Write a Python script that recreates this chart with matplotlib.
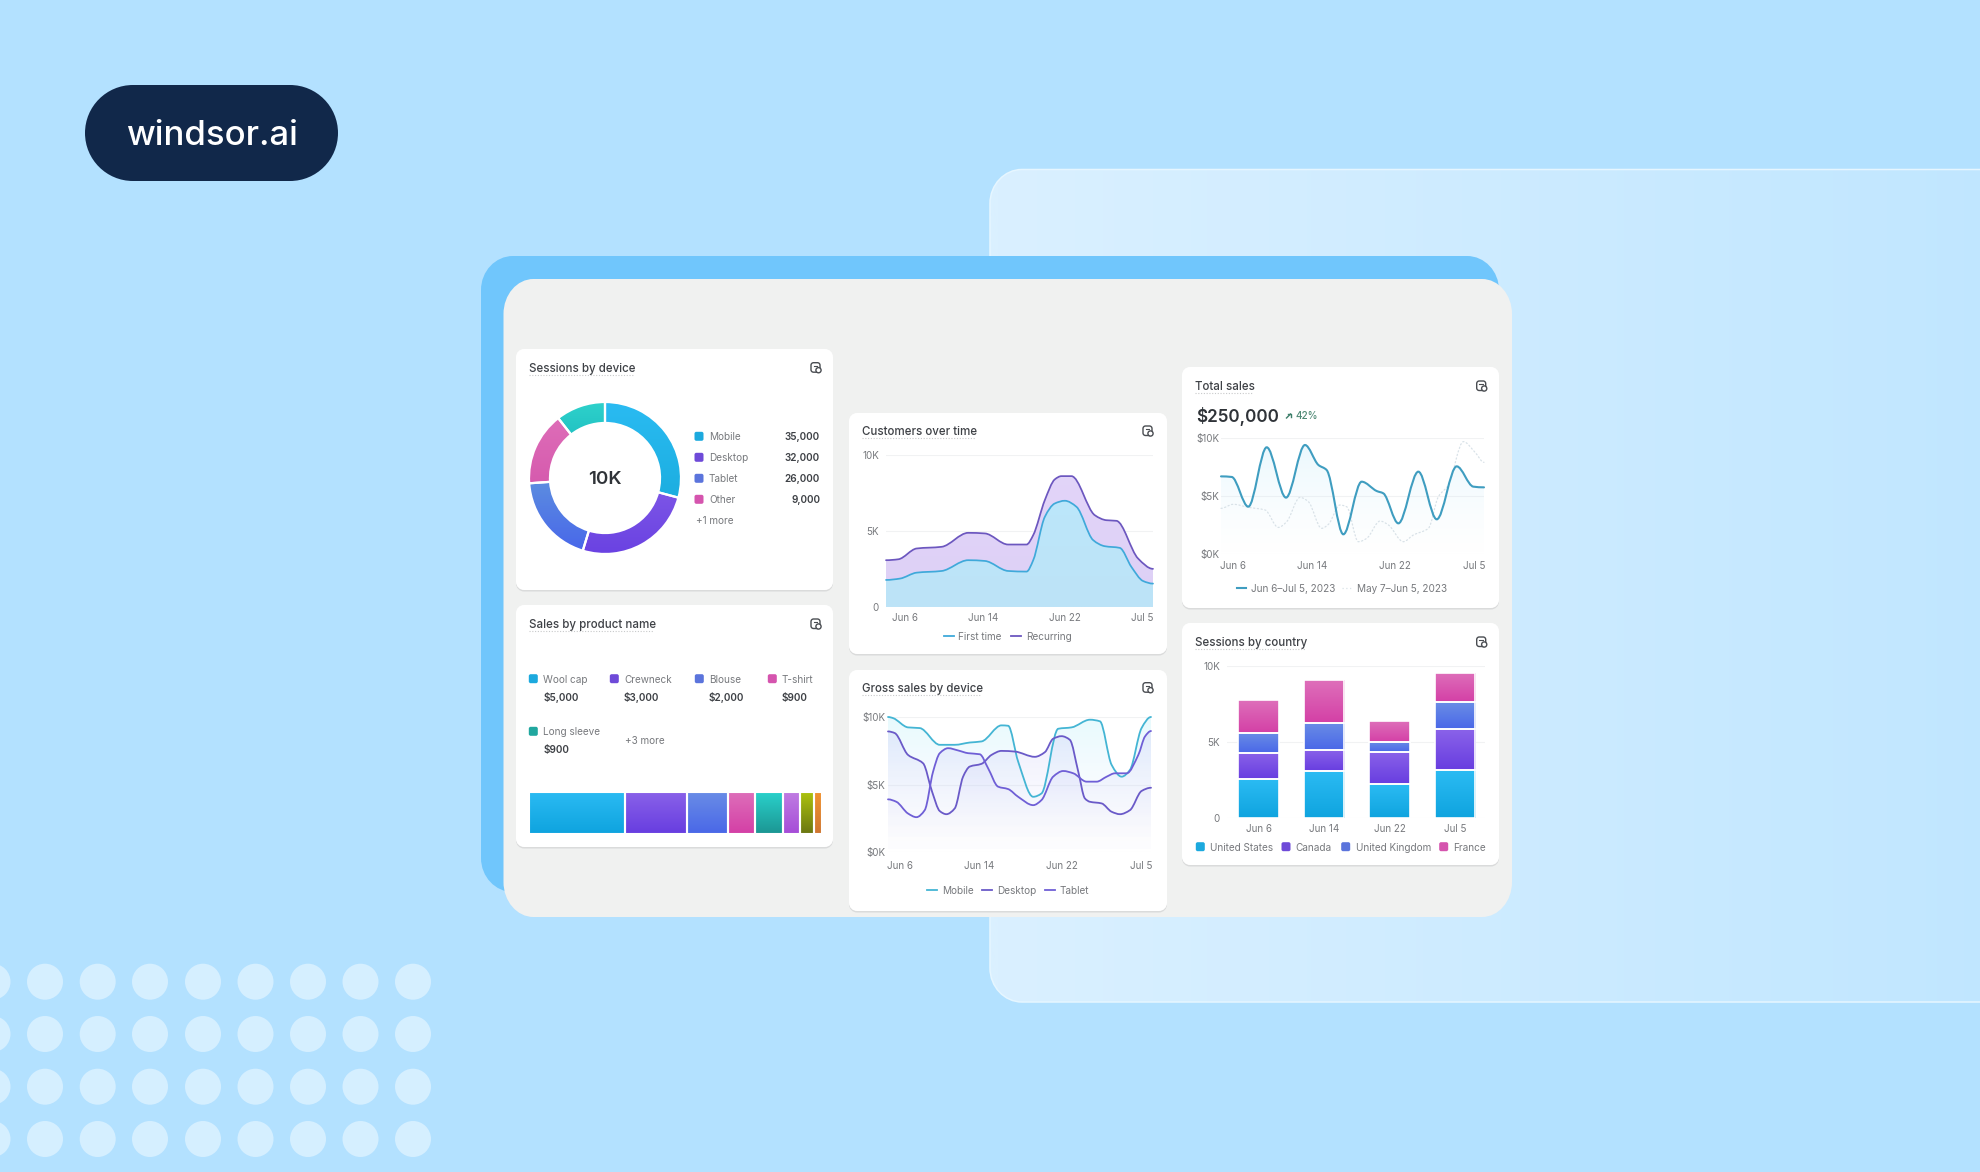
import numpy as np
import matplotlib
matplotlib.use("Agg")
import matplotlib.pyplot as plt
from matplotlib.patches import Circle, PathPatch
from matplotlib.path import Path
from matplotlib.colors import to_rgba

plt.rcParams['font.family'] = ['Inter', 'DejaVu Sans']

# ---------------- data ----------------
device_names = ['Mobile', 'Desktop', 'Tablet', 'Other']
device_labels = ['35,000', '32,000', '26,000', '9,000']
device_slices = [105, 92, 69, 56, 38]

product_names = ['Wool cap', 'Crewneck', 'Blouse', 'T-shirt', 'Long sleeve']
product_labels = ['$5,000', '$3,000', '$2,000', '$900', '$900']
product_bar = [5090, 3260, 2170, 1460, 1460, 915, 720, 420]

cust_recurring_day = [0, 1.34, 3.33, 6.04, 8.93, 10.74, 13.27, 15.26, 15.99, 17.25, 18.34, 19.06, 20.14, 22.68,
                      23.94, 25.03, 27.38, 29]
cust_recurring = [3080, 3140, 3850, 3960, 4880, 4840, 4110, 4110, 4730, 7030, 8400, 8610, 8610, 6040,
                  5710, 5670, 3190, 2510]
cust_first_day = [0, 1.52, 3.33, 6.04, 8.93, 10.74, 13.27, 15.26, 15.99, 17.25, 18.33, 19.42, 20.69, 22.5,
                  23.76, 25.39, 26.65, 27.92, 29]
cust_first = [1780, 1870, 2260, 2370, 3080, 3030, 2370, 2330, 3080, 5930, 6810, 6990, 6590, 4400,
              4000, 3890, 2640, 1710, 1540]

gross_mobile_day = [0, 0.55, 2.21, 3.5, 5.71, 7.36, 9.02, 10.31, 12.51, 13.25, 14.35, 16.01, 16.93, 18.77,
                    20.24, 22.27, 23.37, 24.66, 25.76, 26.68, 27.96, 29]
gross_mobile = [10000, 9920, 9230, 9180, 7940, 7940, 8110, 8190, 9380, 9350, 6700, 4090, 4340, 9130,
                9230, 9800, 9680, 6450, 5580, 6080, 9180, 10000]
gross_desktop_day = [0, 0.74, 2.21, 3.87, 4.86, 5.71, 6.44, 7.36, 8.28, 9.02, 10.31, 11.41, 12.51, 13.99,
                     16.19, 17.29, 18.21, 19.13, 20.05, 20.98, 21.71, 22.27, 23.55, 24.66, 25.58, 26.68, 27.96, 29]
gross_desktop = [8930, 8810, 7190, 6570, 4470, 3030, 2800, 3230, 5580, 6330, 6530, 7190, 7490, 7440,
                 7050, 7390, 8390, 8580, 8310, 5950, 3970, 3720, 3600, 2980, 2800, 3100, 4520, 4760]
gross_tablet_day = [0, 0.92, 2.21, 3.13, 4.05, 4.97, 5.71, 6.63, 7.74, 8.83, 10.12, 11.04, 12.14, 13.25,
                    14.35, 16.01, 16.93, 18.21, 19.32, 20.43, 21.9, 23.0, 24.11, 25.03, 26.32, 27.6, 28.34, 29]
gross_tablet = [3900, 3720, 2850, 2580, 3100, 5950, 7320, 7690, 7520, 7320, 7240, 6200, 4840, 4660,
                4090, 3470, 3850, 5580, 6000, 5830, 5210, 5210, 5580, 5830, 5830, 7190, 8560, 8960]

total_current_day = [0, 1.18, 3.01, 5.04, 7.17, 9.26, 10.74, 11.65, 13.49, 15.51, 17.17, 17.9, 19.56, 21.76,
                     23.79, 25.99, 27.83, 29]
total_current = [6700, 6650, 4075, 9220, 4860, 9420, 7690, 7250, 1680, 6240, 5430, 5230, 2630, 7110,
                 2980, 7570, 5810, 5750]
total_previous_day = [0, 1.36, 3.01, 4.85, 6.32, 7.24, 8.71, 9.63, 11.1, 11.84, 13.12, 13.86, 15.15, 16.07,
                      17.54, 18.46, 20.11, 21.21, 22.87, 23.97, 25.07, 26.73, 28.01, 29]
total_previous = [3930, 4280, 4020, 3790, 2280, 2770, 4880, 4510, 2200, 2540, 4220, 4070, 1040, 1330,
                  2830, 2490, 1040, 1620, 2200, 4940, 5950, 9710, 8790, 7920]

date_labels = ['Jun 6', 'Jun 14', 'Jun 22', 'Jul 5']
country_names = ['United States', 'Canada', 'United Kingdom', 'France']
country_us = [2530, 3050, 2200, 3140]
country_ca = [1740, 1430, 2110, 2700]
country_uk = [1340, 1780, 680, 1760]
country_fr = [2130, 2810, 1360, 1960]

# ---------------- palette ----------------
W, H = 1980, 1172
CYAN = ('#2BBBF3', '#0FA4DF')
PURPLE = ('#8A62E9', '#683EE0')
BLUE = ('#6A8DE6', '#4A68E8')
PINK = ('#DE6FBA', '#D440A6')
TEAL = ('#2AD2CC', '#1C9794')
LILAC = ('#C07DE2', '#A64DD8')
OLIVE = ('#AEC40E', '#6C7812')
ORANGE = ('#F29330', '#CF7630')
SW_CYAN, SW_PURPLE, SW_BLUE, SW_PINK, SW_TEAL = '#1CA9DE', '#6E4AD8', '#5B74DC', '#D554AE', '#20A79F'
INK = '#3E4146'
MUTED = '#77797D'

fig = plt.figure(figsize=(W / 100, H / 100), dpi=100, facecolor='#B3E1FF')
bg = fig.add_axes([0, 0, 1, 1])
bg.set_xlim(0, W)
bg.set_ylim(H, 0)
bg.axis('off')


def rbox(x0, y0, x1, y1, rx, ry=None, **kw):
    """Rounded rectangle with elliptical cubic corners, in pixel coordinates."""
    ry = rx if ry is None else ry
    k = 0.5523
    kx, ky = rx * (1 - k), ry * (1 - k)
    v = [(x0 + rx, y0), (x1 - rx, y0),
         (x1 - kx, y0), (x1, y0 + ky), (x1, y0 + ry),
         (x1, y1 - ry),
         (x1, y1 - ky), (x1 - kx, y1), (x1 - rx, y1),
         (x0 + rx, y1),
         (x0 + kx, y1), (x0, y1 - ky), (x0, y1 - ry),
         (x0, y0 + ry),
         (x0, y0 + ky), (x0 + kx, y0), (x0 + rx, y0),
         (x0 + rx, y0)]
    c4, li = Path.CURVE4, Path.LINETO
    codes = [Path.MOVETO, li, c4, c4, c4, li, c4, c4, c4, li, c4, c4, c4, li, c4, c4, c4, Path.CLOSEPOLY]
    p = PathPatch(Path(v, codes), **kw)
    bg.add_patch(p)
    return p


def gradient(ax, patch, bbox, top, bottom, z=2, horizontal=False):
    """Vertical (or horizontal) colour ramp clipped to a patch."""
    xl, yl = ax.get_xlim(), ax.get_ylim()
    a, b = to_rgba(top), to_rgba(bottom)
    t = np.linspace(0, 1, 64)[:, None, None]
    arr = (1 - t) * np.array(a)[None, None, :] + t * np.array(b)[None, None, :]
    if horizontal:
        arr = np.transpose(arr, (1, 0, 2))
    inverted = yl[0] > yl[1]
    extent = (bbox[0], bbox[2], bbox[3], bbox[1]) if inverted else (bbox[0], bbox[2], bbox[1], bbox[3])
    im = ax.imshow(arr, extent=extent, aspect='auto', origin='upper', zorder=z, interpolation='bilinear')
    im.set_clip_path(patch)
    ax.set_xlim(xl)
    ax.set_ylim(yl)
    return im


def outline(ax, patch, lw=1.3, z=4):
    ax.add_artist(PathPatch(patch.get_path(), transform=patch.get_transform(), fc='none', ec='white', lw=lw, zorder=z))


def curve(x, y, close=False):
    """Monotone cubic path through the read values."""
    x = np.asarray(x, float)
    y = np.asarray(y, float)
    h = np.diff(x)
    d = np.diff(y) / h
    m = np.zeros_like(y)
    for i in range(1, len(y) - 1):
        if d[i - 1] * d[i] > 0:
            m[i] = 2 * d[i - 1] * d[i] / (d[i - 1] + d[i])
    verts = [(x[0], y[0])]
    codes = [Path.MOVETO]
    for i in range(len(h)):
        verts += [(x[i] + h[i] / 3, y[i] + m[i] * h[i] / 3),
                  (x[i + 1] - h[i] / 3, y[i + 1] - m[i + 1] * h[i] / 3),
                  (x[i + 1], y[i + 1])]
        codes += [Path.CURVE4] * 3
    if close:
        verts += [(x[-1], 0), (x[0], 0), (x[0], y[0])]
        codes += [Path.LINETO, Path.LINETO, Path.CLOSEPOLY]
    return Path(verts, codes)


def chart_ax(x0, y0, x1, y1, xlim, ylim=(0, 10000)):
    ax = fig.add_axes([x0 / W, 1 - y1 / H, (x1 - x0) / W, (y1 - y0) / H])
    ax.patch.set_alpha(0)
    ax.set_xlim(xlim)
    ax.set_ylim(ylim)
    for s in ax.spines.values():
        s.set_visible(False)
    return ax


def style_ticks(ax, xt, xl, yt, yl, padx, pady):
    ax.set_xticks(xt, xl)
    ax.set_yticks(yt, yl)
    ax.tick_params(axis='x', length=0, pad=padx, labelsize=TICK, labelcolor=MUTED)
    ax.tick_params(axis='y', length=0, pad=pady, labelsize=TICK, labelcolor=MUTED)
    ax.grid(axis='y', color='#F1F2F3', lw=0.8, zorder=0)
    ax.set_axisbelow(True)


def line(ax, path, color, lw, **kw):
    ax.add_patch(PathPatch(path, fc='none', ec=color, lw=lw, clip_on=False, capstyle='round', zorder=5, **kw))


def area(ax, path, top, bottom, z=2):
    p = PathPatch(path, fc='none', ec='none', zorder=z)
    ax.add_patch(p)
    xl, yl = ax.get_xlim(), ax.get_ylim()
    gradient(ax, p, (xl[0], yl[0], xl[1], yl[1]), top, bottom, z=z)


TICK = 7.1
LEG = 7.2
TITLE = 8.3

# ---------------- backdrop ----------------
panel = rbox(990, 169.5, 2050, 1002, 32, 34, fc='none', ec='none', zorder=1)
gradient(bg, panel, (990, 169, 2050, 1002), '#DAF0FF', '#BFE6FF', z=1, horizontal=True)
rbox(990, 169.5, 2050, 1002, 32, 34, fc='none', ec='#E6F6FF', lw=1.1, zorder=1.1)
rbox(481, 256, 1499, 892, 32, 34, fc='#70C6FC', ec='none', zorder=2)
rbox(503.5, 279, 1512, 917, 30, 35, fc='#F0F1F0', ec='none', zorder=3)

rbox(85, 85, 338, 181, 48, fc='#11284A', ec='none', zorder=3)
bg.text(212, 136, 'windsor.ai', color='white', fontsize=25, fontweight='medium', ha='center', va='center', zorder=4)

for cy in [981.7, 1034, 1086.7, 1139]:
    for cx in [-7.5, 45, 97.7, 150, 203, 255.5, 308, 360.5, 413]:
        bg.add_patch(Circle((cx, cy), 18, fc='#D5EFFF', ec='none', zorder=1))

# ---------------- cards ----------------
cards = [(516, 349, 833, 590), (516, 605, 833, 847), (849, 413, 1167, 654),
         (849, 670, 1167, 911), (1182, 367, 1499, 608), (1182, 623, 1499, 865)]
for c in cards:
    rbox(c[0], c[1] + 1.5, c[2], c[3] + 1.5, 8, fc='#DADBDB', ec='none', zorder=4)
    rbox(*c, 8, fc='white', ec='none', zorder=4.1)

titles = [('Sessions by device', 529, 367.7, 104, 816), ('Sales by product name', 529, 624, 125, 816),
          ('Customers over time', 861.7, 431, 113, 1148), ('Gross sales by device', 861.7, 687.7, 118, 1148),
          ('Total sales', 1195, 386, 58, 1481.7), ('Sessions by country', 1195, 642, 110, 1481.7)]
for name, x, y, w, ix in titles:
    bg.text(x, y + 1, name, color=INK, fontsize=TITLE, fontweight='medium', ha='left', va='center', zorder=6)
    bg.plot([x, x + w], [y + 6.8, y + 6.8], color='#C8C9CA', lw=0.8, ls=(0, (1, 1.5)), zorder=6)
    rbox(ix - 5, y - 5, ix + 4, y + 4.5, 2.5, fc='none', ec='#4A4D52', lw=1.0, zorder=6)
    bg.add_patch(Circle((ix + 2.5, y + 2.5), 2.6, fc='white', ec='#4A4D52', lw=1.0, zorder=6.1))
    bg.plot([ix - 2.5, ix + 1], [y - 1.8, y - 1.8], color='#4A4D52', lw=0.8, zorder=6)


def swatch(x, y, color, s=9):
    rbox(x - s / 2, y - s / 2, x + s / 2, y + s / 2, 1.8, fc=color, ec='none', zorder=6)


def label(x, y, s, color=MUTED, size=LEG, ha='left', weight='normal'):
    bg.text(x, y + 1, s, color=color, fontsize=size, ha=ha, va='center', fontweight=weight, zorder=6)


# ---------------- Sessions by device ----------------
ax = chart_ax(525, 398, 685, 558, (-80 / 76, 80 / 76), (-80 / 76, 80 / 76))
ax.set_xticks([])
ax.set_yticks([])
device_colors = [('#2ABBF2', '#1CAEE0'), ('#7C55E6', '#6A42E2'), ('#5C8CE0', '#4867EA'),
                 ('#DE6DB8', '#D65BAE'), ('#2ED1CB', '#22C3C3')]
wedges, _ = ax.pie(device_slices, startangle=90, counterclock=False, radius=1,
                   colors=[c[1] for c in device_colors], wedgeprops=dict(width=0.276, edgecolor='none'))
ax.set_xlim(-80 / 76, 80 / 76)
ax.set_ylim(-80 / 76, 80 / 76)
for w, c in zip(wedges, device_colors):
    b = w.get_path().get_extents()
    gradient(ax, w, (b.x0, b.y0, b.x1, b.y1), c[0], c[1], z=2)
    outline(ax, w, lw=1.6)
bg.text(605, 479, '10K', color='#2F3338', fontsize=13.5, fontweight='semibold', ha='center', va='center', zorder=6)

for y, n, v, c in zip([436.3, 457.3, 478.3, 499.3], device_names, device_labels,
                      [SW_CYAN, SW_PURPLE, SW_BLUE, SW_PINK]):
    swatch(699, y, c)
    label(709, y, n)
    label(820, y, v, color=INK, ha='right', weight='semibold')
label(695.7, 520.3, '+1 more')

# ---------------- Sales by product name ----------------
positions = [(533.3, 543.3, 678.7, 696.7), (614.3, 624, 678.7, 696.7), (699.3, 709, 678.7, 696.7),
             (772.3, 782, 678.7, 696.7), (533.3, 543.3, 731.3, 749)]
for pos, n, v, c in zip(positions, product_names, product_labels,
                        [SW_CYAN, SW_PURPLE, SW_BLUE, SW_PINK, SW_TEAL]):
    swatch(pos[0], pos[2], c)
    label(pos[1], pos[2], n)
    label(pos[1], pos[3], v, color=INK, weight='semibold')
label(625, 740, '+3 more')

ax = chart_ax(528.5, 791.5, 822, 833.5, (0, sum(product_bar)), (0, 1))
ax.axis('off')
left = np.concatenate([[0], np.cumsum(product_bar)[:-1]])
bar_colors = [CYAN, PURPLE, BLUE, PINK, TEAL, LILAC, OLIVE, ORANGE]
rects = ax.barh([0.5], product_bar, left=left, height=1, color=[c[1] for c in bar_colors], zorder=1)
for r, c in zip(rects, bar_colors):
    gradient(ax, r, (r.get_x(), 0, r.get_x() + r.get_width(), 1), c[0], c[1], z=2)
    outline(ax, r, lw=1.5)

# ---------------- Customers over time ----------------
ax = chart_ax(886, 455, 1153, 607, (0, 29))
style_ticks(ax, [2.06, 10.56, 19.42, 27.85], date_labels, [0, 5000, 10000], ['0', '5K', '10K'], 4.2, 5)
area(ax, curve(cust_recurring_day, cust_recurring, True), '#E3D5F9', '#DDD0F6', z=2)
area(ax, curve(cust_first_day, cust_first, True), '#BBE8FC', '#BDE3F7', z=3)
line(ax, curve(cust_recurring_day, cust_recurring), '#6C57BF', 1.25)
line(ax, curve(cust_first_day, cust_first), '#3FA9DA', 1.25)
bg.plot([944, 953.7], [635.7] * 2, color='#3FA9DA', lw=1.3, zorder=6)
label(958.3, 635.7, 'First time')
bg.plot([1011, 1020.7], [635.7] * 2, color='#6C57BF', lw=1.3, zorder=6)
label(1026, 635.7, 'Recurring')

# ---------------- Gross sales by device ----------------
ax = chart_ax(888, 717, 1151, 852, (0, 29))
style_ticks(ax, [1.29, 10.05, 19.17, 27.9], date_labels, [0, 5000, 10000], ['$0K', '$5K', '$10K'], 6.2, 1.7)
area(ax, curve(gross_mobile_day, gross_mobile, True), (0.72, 0.94, 0.98, 0.32), (0.9, 0.9, 1, 0.0), z=2)
area(ax, curve(gross_desktop_day, gross_desktop, True), (0.70, 0.70, 0.95, 0.26), (0.85, 0.85, 1, 0.0), z=2.1)
area(ax, curve(gross_tablet_day, gross_tablet, True), (0.70, 0.70, 0.95, 0.26), (0.85, 0.85, 1, 0.0), z=2.2)
line(ax, curve(gross_mobile_day, gross_mobile), '#44B5D4', 1.3)
line(ax, curve(gross_desktop_day, gross_desktop), '#6A5AC8', 1.3)
line(ax, curve(gross_tablet_day, gross_tablet), '#6F5FD6', 1.3)
for x0, xt, n, col in [(927, 941.7, 'Mobile', '#44B5D4'), (982.3, 997, 'Desktop', '#6A5AC8'),
                       (1045, 1060, 'Tablet', '#6F5FD6')]:
    bg.plot([x0, x0 + 10], [890, 890], color=col, lw=1.3, zorder=6)
    label(xt, 890, n)

# ---------------- Total sales ----------------
bg.text(1196, 416, '$250,000', color='#2F3338', fontsize=12.3, fontweight='semibold', ha='left', va='center', zorder=6)
bg.plot([1286.5, 1290.5], [418, 414], color='#3D7F6A', lw=1.0, zorder=6)
bg.plot([1287.5, 1291, 1291], [413.5, 413.5, 417], color='#3D7F6A', lw=1.0, zorder=6)
label(1295, 415, '42%', color='#4F8975', weight='medium')

ax = chart_ax(1221, 438.3, 1484, 553.7, (0, 29))
style_ticks(ax, [1.36, 10.07, 19.19, 27.87], date_labels, [0, 5000, 10000], ['$0K', '$5K', '$10K'], 5.6, 1.2)
area(ax, curve(total_current_day, total_current, True), (0.72, 0.90, 0.97, 0.30), (0.85, 0.95, 1, 0.0), z=2)
line(ax, curve(total_previous_day, total_previous), '#D9E2E8', 0.9, linestyle=(0, (1, 2)))
line(ax, curve(total_current_day, total_current), '#3F9DC0', 1.5)
bg.plot([1236.7, 1246], [587.7] * 2, color='#3F9DC0', lw=1.5, zorder=6)
label(1251, 587.7, 'Jun 6\u2013Jul 5, 2023')
bg.plot([1341.7, 1351.7], [587.7] * 2, color='#D9E2E8', lw=0.9, ls=(0, (1, 2)), zorder=6)
label(1356.7, 587.7, 'May 7\u2013Jun 5, 2023')

# ---------------- Sessions by country ----------------
ax = chart_ax(1226.7, 666, 1485, 817.7, (-0.49, 3.46))
style_ticks(ax, [0, 1, 2, 3], date_labels, [0, 5000, 10000], ['0', '5K', '10K'], 4.2, 4.8)
bottom = np.zeros(4)
for vals, c in zip([country_us, country_ca, country_uk, country_fr], [CYAN, PURPLE, BLUE, PINK]):
    bars = ax.bar(range(4), vals, bottom=bottom, width=0.62, color=c[1], zorder=1.5)
    for r in bars:
        x = r.get_x()
        gradient(ax, r, (x, r.get_y(), x + r.get_width(), r.get_y() + r.get_height()), c[0], c[1], z=2)
        outline(ax, r, lw=1.2)
    bottom += np.array(vals)
for x0, xt, n, c in zip([1200.3, 1286, 1345.7, 1443.7], [1210, 1295.7, 1355.7, 1453.3], country_names,
                        [SW_CYAN, SW_PURPLE, SW_BLUE, SW_PINK]):
    swatch(x0, 846.7, c)
    label(xt, 846.7, n)

fig.savefig('out.png', dpi=100, facecolor=fig.get_facecolor())
